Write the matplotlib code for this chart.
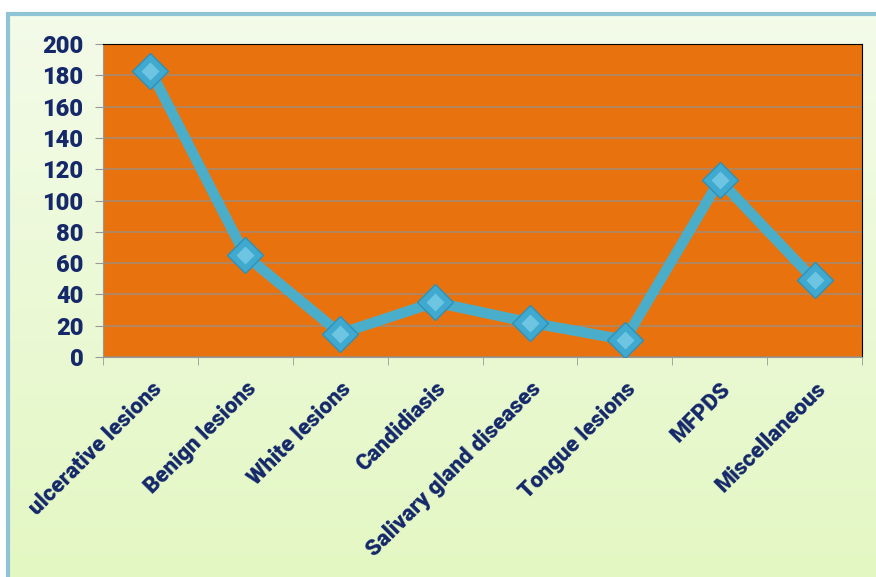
import numpy as np
import matplotlib.pyplot as plt
from matplotlib.patches import Rectangle

# data
categories = ["ulcerative lesions", "Benign lesions", "White lesions", "Candidiasis",
              "Salivary gland diseases", "Tongue lesions", "MFPDS", "Miscellaneous"]
counts = [183, 65, 15, 35, 22, 11, 113, 49]
yticks = [0, 20, 40, 60, 80, 100, 120, 140, 160, 180, 200]

navy = "#14286a"
plt.rcParams['font.family'] = ['Roboto', 'DejaVu Sans']

fig = plt.figure(figsize=(8.76, 5.77), dpi=100)

# pale green gradient panel behind the chart (runs off the right/bottom edge)
bg = fig.add_axes([8/876, -0.02, 1.02, (577 - 14)/577 + 0.02])
grad = np.linspace(0, 1, 256).reshape(-1, 1)
c_top = np.array([0.955, 0.985, 0.915])
c_bot = np.array([0.89, 0.97, 0.76])
img = c_top + (c_bot - c_top) * grad[..., None]
bg.imshow(img, aspect='auto', extent=[0, 1, 0, 1], origin='upper')
bg.add_patch(Rectangle((0, 0), 1, 1, transform=bg.transAxes, fill=False,
                       edgecolor="#8fc3d6", linewidth=3, clip_on=False))
bg.set_axis_off()

ax = fig.add_axes([103/876, 1 - 357/577, (862 - 103)/876, (357 - 44)/577])
ax.set_facecolor("#e8730e")
x = np.arange(len(categories))
ax.plot(x, counts, color="#4aaecb", linewidth=7.5, solid_joinstyle='round', zorder=3)
ax.plot(x, counts, linestyle='none', marker='D', markersize=18,
        markerfacecolor="#3fa9cf", markeredgecolor="#3190b5", markeredgewidth=1.0, zorder=4)
ax.plot(x, counts, linestyle='none', marker='D', markersize=9,
        markerfacecolor="#79cde8", markeredgecolor='none', alpha=0.8, zorder=5)

ax.set_xlim(-0.5, len(categories) - 0.5)
ax.set_ylim(0, 200)
ax.set_yticks(yticks)
ax.set_yticklabels([str(v) for v in yticks], fontsize=17, fontweight='black', color=navy)
ax.yaxis.grid(True, color="#a8896c", linewidth=1.2)
ax.set_axisbelow(True)

ax.set_xticks(x)
ax.set_xticklabels(categories, rotation=45, ha='right', rotation_mode='anchor',
                   fontsize=16, fontweight='black', color=navy)
ax.tick_params(axis='x', length=0, pad=15)
ax.set_xticks(np.arange(-0.5, len(categories)), minor=True)
ax.tick_params(axis='x', which='minor', length=6, color="#999999")
ax.tick_params(axis='y', length=6, color="#999999", pad=8)

ax.spines['top'].set_color('black')
ax.spines['right'].set_color('black')
ax.spines['left'].set_color('#999999')
ax.spines['bottom'].set_color('#999999')

fig.savefig("out.png", dpi=100)
